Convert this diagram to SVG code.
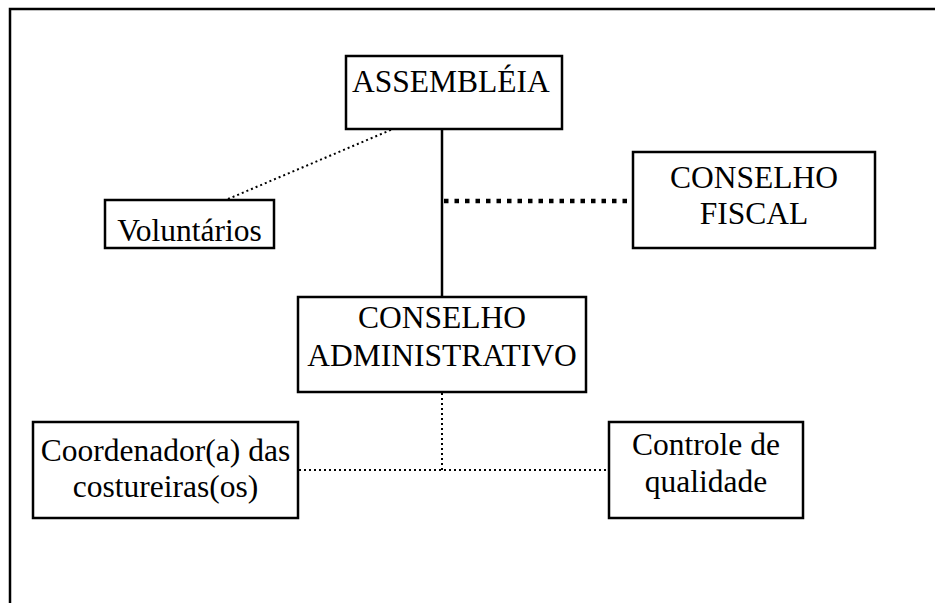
<svg xmlns="http://www.w3.org/2000/svg" width="935" height="603" viewBox="0 0 935 603">
<style>
.box{fill:#fff;stroke:#000;stroke-width:2.5}
.t{font-family:"Liberation Serif","Times New Roman",serif;font-size:31.5px;fill:#000}
.c{text-anchor:middle}
.solid{stroke:#000;stroke-width:2.5;fill:none}
.dot{stroke:#000;stroke-width:2;stroke-dasharray:2 3;fill:none}
.thick{stroke:#000;stroke-width:4.5;stroke-dasharray:4.5 6;fill:none}
</style>
<rect width="935" height="603" fill="#fff"/>
<path d="M10,612 V9 H945" fill="none" stroke="#000" stroke-width="2.5"/>
<g id="connectors">
<line class="solid" x1="442" y1="129" x2="442" y2="297"/>
<line class="thick" x1="444" y1="201" x2="633" y2="201"/>
<line class="dot" x1="228" y1="199" x2="393" y2="129"/>
<line class="dot" x1="442" y1="393" x2="442" y2="470"/>
<line class="dot" x1="299" y1="470" x2="608" y2="470"/>
</g>
<g id="assembleia">
<rect class="box" x="346" y="56" width="216" height="73"/>
<text class="t" x="352" y="92">ASSEMBLÉIA</text>
</g>
<g id="voluntarios">
<rect class="box" x="105" y="200" width="169" height="48"/>
<text class="t c" x="189.5" y="241">Voluntários</text>
</g>
<g id="conselho-fiscal">
<rect class="box" x="633" y="152" width="242" height="96"/>
<text class="t c" x="754" y="188">CONSELHO</text>
<text class="t c" x="754" y="224">FISCAL</text>
</g>
<g id="conselho-administrativo">
<rect class="box" x="298" y="297" width="288" height="95"/>
<text class="t c" x="442" y="328">CONSELHO</text>
<text class="t c" x="442" y="366">ADMINISTRATIVO</text>
</g>
<g id="coordenador">
<rect class="box" x="33" y="422" width="265" height="96"/>
<text class="t c" x="165.5" y="461">Coordenador(a) das</text>
<text class="t c" x="165.5" y="497">costureiras(os)</text>
</g>
<g id="controle">
<rect class="box" x="609" y="422" width="194" height="96"/>
<text class="t c" x="706" y="455">Controle de</text>
<text class="t c" x="706" y="492">qualidade</text>
</g>
</svg>
